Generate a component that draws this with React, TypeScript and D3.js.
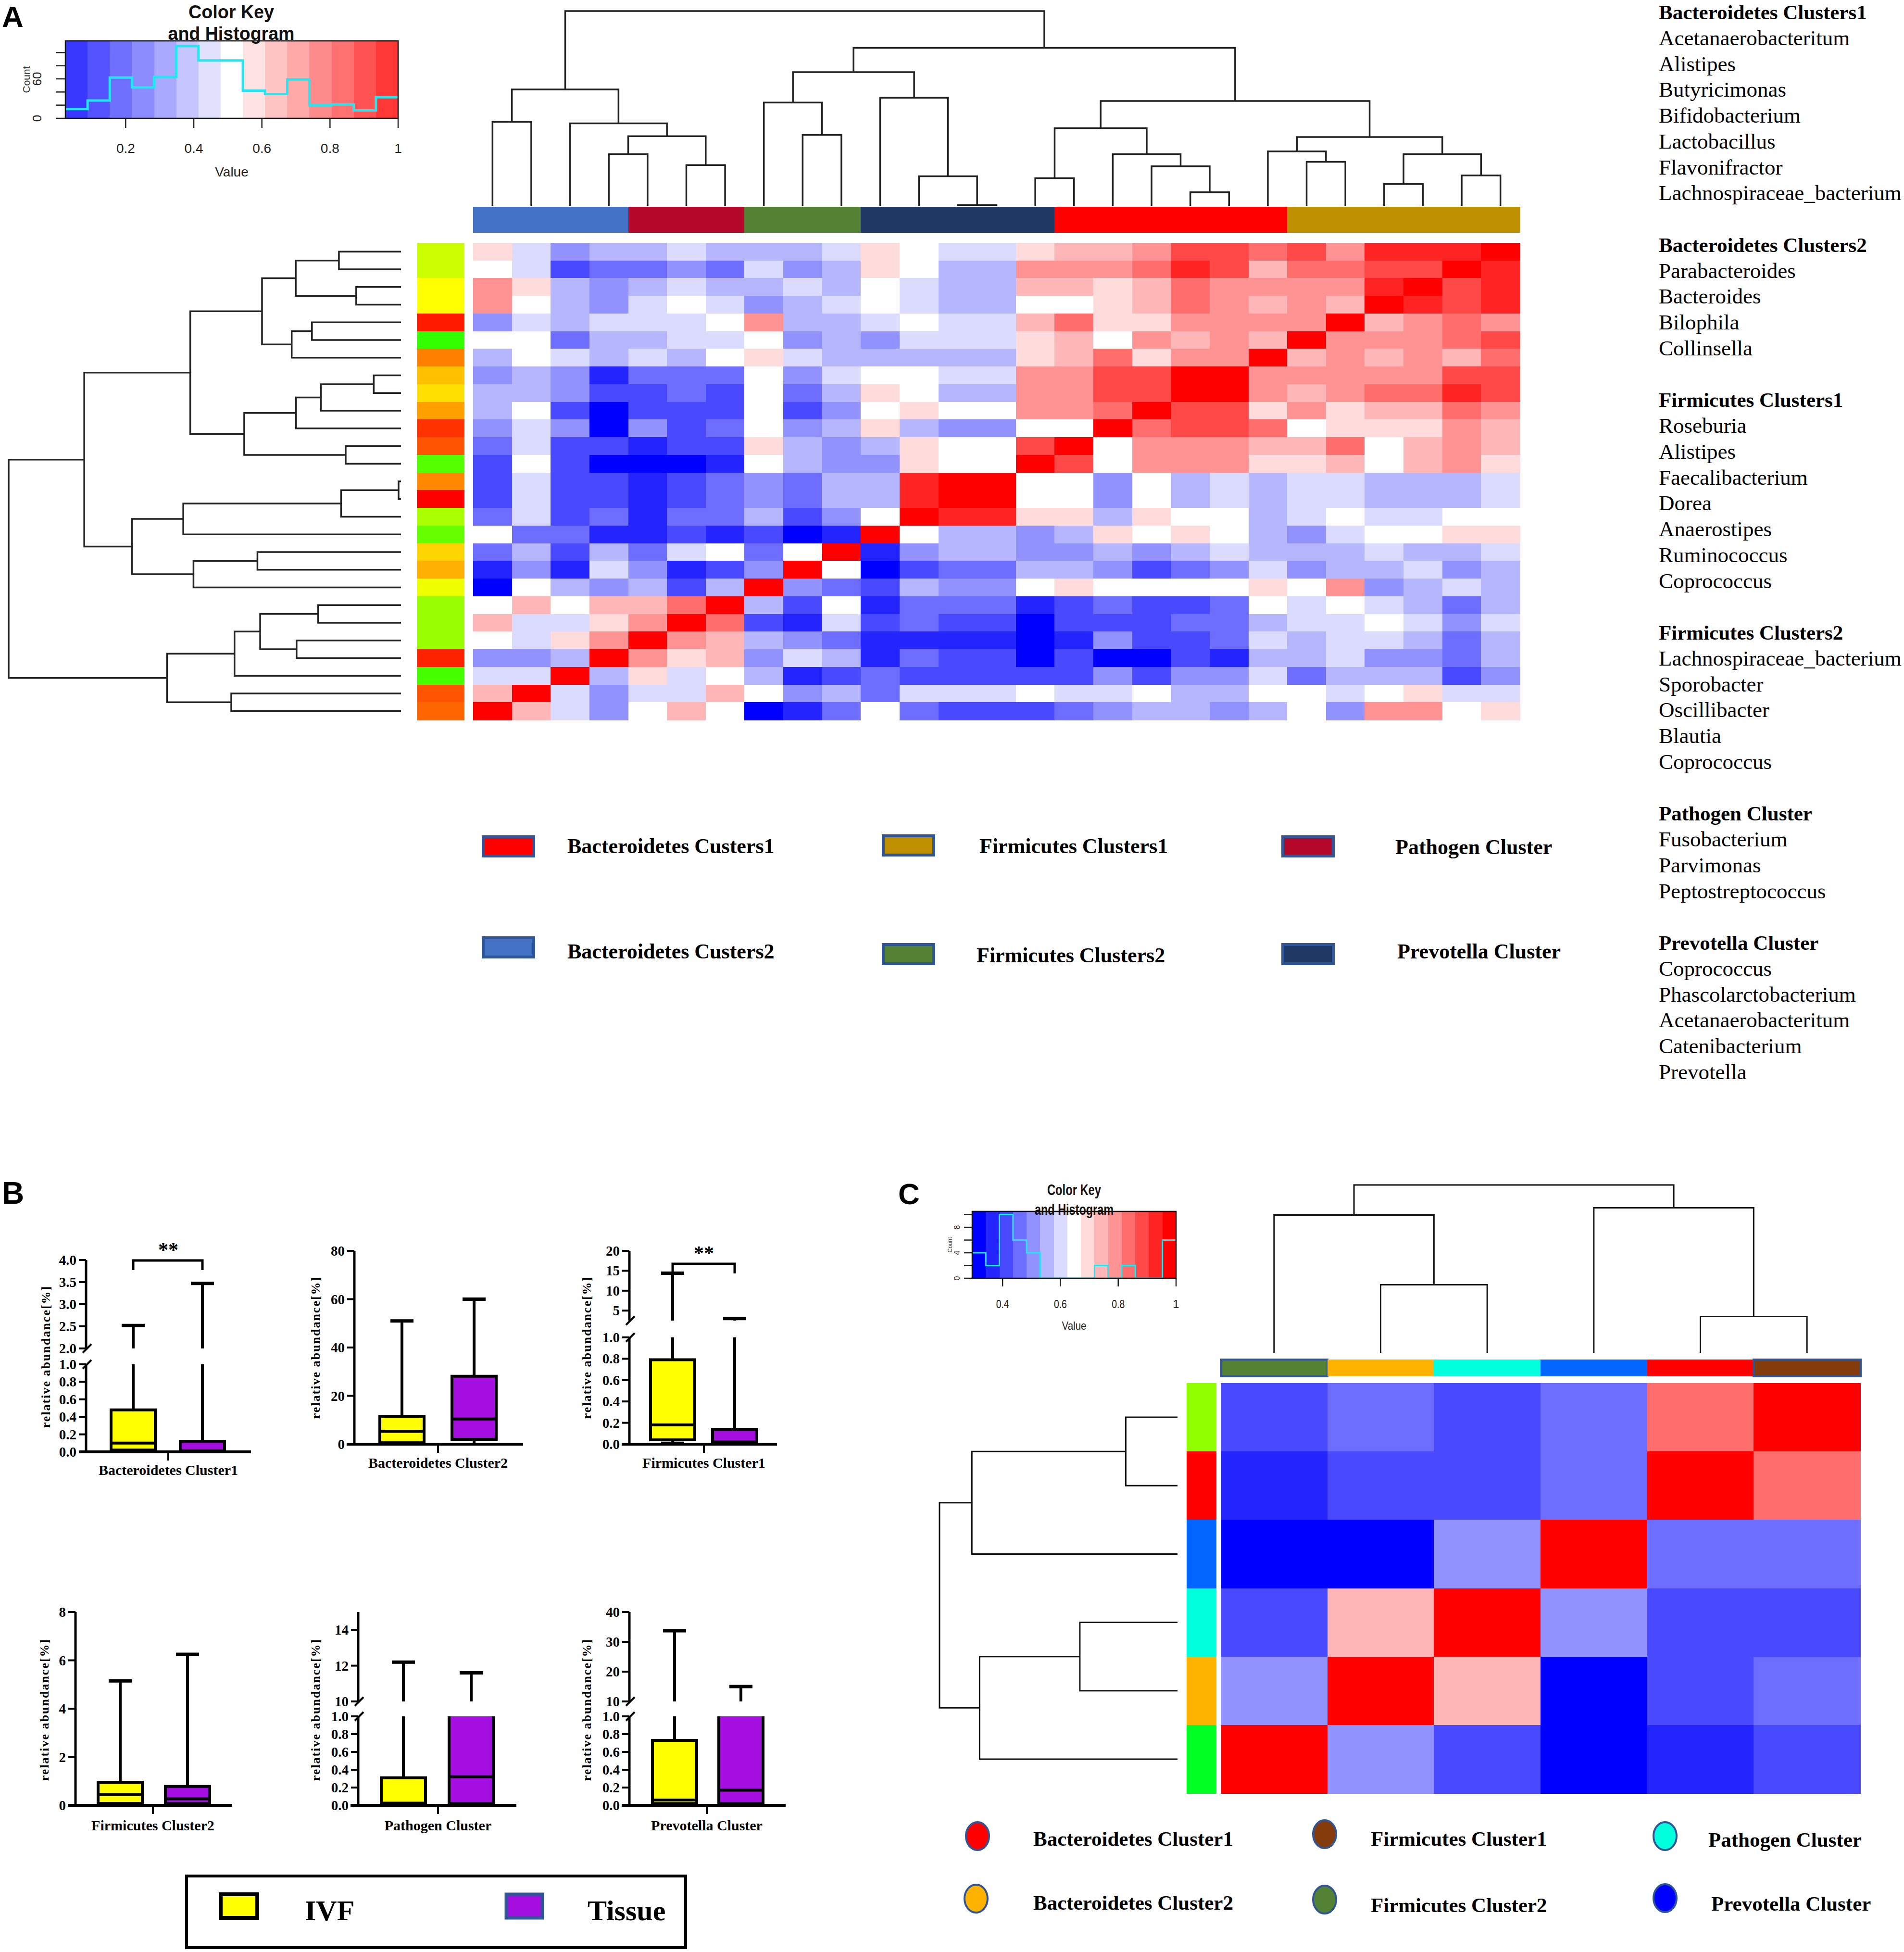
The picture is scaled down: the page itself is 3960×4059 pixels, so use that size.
import React from "react";
import * as d3 from "d3";

type Tree = number | [Tree, Tree, number];

const W = 3960;
const H = 4059;
const SERIF = "'Liberation Serif','Times New Roman',serif";
const SANS = "'Liberation Sans',Arial,sans-serif";

// ---------------- Panel A data ----------------
// cell values as colour-key bins: -7 deep blue ... 0 white ... 7 deep red
const heatA: number[][] = [
  [1, -1, -3, -2, -2, -1, -2, -2, -2, -1, 1, 0, -1, -1, 1, 2, 2, 3, 5, 5, 4, 5, 3, 6, 6, 6, 7],
  [0, -1, -5, -4, -4, -3, -4, -1, -3, -2, 1, 0, -2, -2, 3, 3, 3, 4, 6, 5, 2, 4, 4, 5, 5, 7, 6],
  [3, 1, -2, -3, -2, -1, -2, -2, -1, -2, 0, -1, -2, -2, 2, 2, 1, 2, 4, 3, 3, 3, 3, 6, 7, 5, 6],
  [3, 0, -2, -3, -1, 0, -1, -3, -2, -1, 0, -1, -2, -2, 0, 0, 1, 2, 4, 3, 2, 3, 2, 7, 6, 5, 6],
  [-3, -1, -2, -1, -1, -1, 0, 3, -2, -2, -1, 0, -1, -1, 2, 4, 1, 1, 3, 3, 3, 3, 7, 2, 3, 4, 3],
  [0, 0, -4, -2, -2, -1, -1, 0, -3, -2, -3, -1, -1, -1, 1, 2, 0, 3, 2, 3, 2, 7, 3, 3, 3, 4, 5],
  [-2, 0, -1, -2, -1, -2, 0, 1, -1, -2, -2, -2, -2, -2, 1, 2, 4, 1, 3, 3, 7, 2, 3, 2, 3, 2, 4],
  [-3, -2, -3, -6, -4, -4, -4, 0, -3, -1, 0, 0, -1, -1, 3, 3, 5, 5, 7, 7, 3, 3, 3, 3, 3, 5, 5],
  [-2, -2, -3, -5, -5, -4, -5, 0, -4, -2, 1, 0, -2, -2, 3, 3, 5, 5, 7, 7, 3, 2, 3, 4, 4, 6, 5],
  [-2, 0, -5, -7, -5, -5, -5, 0, -5, -3, 0, 1, 0, 0, 3, 3, 4, 7, 5, 5, 1, 3, 1, 2, 2, 4, 3],
  [-3, -1, -3, -7, -3, -5, -4, 0, -3, -2, 1, -2, -3, -3, 0, 0, 7, 4, 5, 5, 4, 0, 1, 1, 1, 3, 2],
  [-4, -1, -5, -5, -6, -5, -5, 1, -2, -3, -2, 1, 0, 0, 5, 7, 0, 3, 3, 3, 2, 2, 4, 0, 2, 3, 2],
  [-5, 0, -5, -7, -7, -7, -6, 0, -2, -3, -3, 1, 0, 0, 7, 5, 0, 3, 3, 3, 1, 1, 2, 0, 2, 3, 1],
  [-5, -1, -5, -5, -6, -5, -4, -3, -4, -2, -2, 6, 7, 7, 0, 0, -3, 0, -2, -1, -2, -1, -1, -2, -2, -2, -1],
  [-5, -1, -5, -5, -6, -5, -4, -3, -4, -2, -2, 6, 7, 7, 0, 0, -3, 0, -2, -1, -2, -1, -1, -2, -2, -2, -1],
  [-4, -1, -5, -4, -6, -4, -4, -2, -5, -3, 0, 7, 6, 6, 1, 1, -2, 1, 0, 0, -2, -1, 0, -1, -1, 0, 0],
  [0, -4, -4, -6, -6, -5, -6, -5, -7, -6, 7, 0, -2, -2, -3, -2, 1, 0, 1, 0, -2, -3, -1, 0, 0, 1, 1],
  [-4, -2, -5, -2, -4, -1, 0, -4, 0, 7, -6, -3, -2, -2, -3, -3, -2, -3, -2, -1, -2, -2, -2, -1, -2, -2, -1],
  [-6, -3, -6, -1, -3, -6, -5, -3, 7, 0, -7, -5, -4, -4, -2, -2, -3, -5, -4, -3, -1, -3, -2, -2, -1, -3, -2],
  [-7, 0, -2, -3, -2, -5, -2, 7, -3, -4, -5, -2, -3, -3, 0, 1, 0, 0, 0, 0, 1, 0, 3, -3, -2, -1, -2],
  [0, 2, 0, 2, 2, 4, 7, -2, -5, 0, -6, -4, -4, -4, -6, -5, -4, -5, -5, -4, 0, -1, 0, -1, -2, -4, -2],
  [2, -1, -1, 1, 3, 7, 4, -5, -6, -1, -5, -4, -5, -5, -7, -5, -5, -5, -4, -4, -2, -1, -1, 0, -1, -3, -1],
  [0, -1, 1, 3, 7, 3, 2, -2, -3, -4, -6, -6, -6, -6, -7, -6, -3, -5, -5, -4, -1, -2, -1, -1, -2, -4, -2],
  [-3, -3, -2, 7, 3, 1, 2, -3, -1, -2, -6, -4, -5, -5, -7, -5, -7, -7, -5, -6, -2, -2, -1, -3, -3, -4, -2],
  [-1, -1, 7, -2, 1, -1, 0, -2, -6, -5, -4, -5, -5, -5, -5, -5, -3, -5, -3, -3, -1, -4, -2, -2, -2, -5, -3],
  [2, 7, -1, -3, -1, -1, 2, 0, -3, -2, -4, -1, -1, -1, 0, -1, -1, 0, -2, -2, 0, 0, -1, 0, 1, -1, -1],
  [7, 2, -1, -3, 0, 2, 0, -7, -6, -4, 0, -4, -5, -5, -5, -4, -3, -2, -2, -3, -2, 0, -3, 3, 3, 0, 1],
];

const rowSideA = [
  "#CCFF00", "#CCFF00", "#FFFF00", "#FFFF00", "#FF1A00", "#33FF00", "#FF8000", "#FFC000", "#FFE000",
  "#FFA000", "#FF3300", "#FF5500", "#55FF00", "#FF8800", "#FF0000", "#AAFF00", "#66FF00", "#FFD500",
  "#FFB000", "#EEFF00", "#99FF00", "#99FF00", "#99FF00", "#FF2200", "#44FF00", "#FF5500", "#FF6600",
];

const colGroupSizesA = [4, 3, 3, 5, 6, 6];
const colGroupColorsA = ["#4472C4", "#B5082A", "#548235", "#203864", "#FF0000", "#BF9000"];

const colTreeA: Tree = [
  [[0, 1, 5.25], [2, [[3, 4, 3.23], [5, 6, 2.55], 4.35], 5.15], 7.27],
  [
    [[7, [8, 9, 4.43], 6.45], [10, [11, [12, 13, 0.05], 1.85], 6.75], 8.35],
    [
      [[14, 15, 1.73], [16, [17, [18, 19, 0.85], 2.47], 3.23], 4.85],
      [[20, [21, 22, 2.75], 3.4], [[23, 24, 1.37], [25, 26, 1.9], 3.23], 4.3],
      6.55,
    ],
    9.87,
  ],
  12.17,
];

const rowTreeA: Tree = [
  [
    [
      [[[0, 1, 2.3], [2, 3, 1.66], 3.9], [[4, 5, 3.3], 6, 4.05], 5.15],
      [[[[7, 8, 1.01], 9, 2.97], 10, 3.89], [11, 12, 2.05], 5.81],
      7.81,
    ],
    [[[[13, 14, 0.09], 15, 2.22], 16, 8.07], [[17, 18, 5.32], 19, 7.69], 9.97],
    11.74,
  ],
  [[[[20, 21, 3.07], [22, 23, 3.87], 5.22], 24, 6.17], [25, 26, 6.29], 8.67],
  14.54,
];

const keyCountsA = [14, 27, 62, 47, 63, 110, 88, 88, 42, 37, 59, 20, 21, 12, 32];
const keyTicksA = [0.2, 0.4, 0.6, 0.8, 1];

const legendNamesA = [
  "Bacteroidetes Custers1", "Firmicutes Clusters1", "Pathogen Cluster",
  "Bacteroidetes Custers2", "Firmicutes Clusters2", "Prevotella Cluster",
];
const legendColorsA = ["#FF0000", "#BF9000", "#B5082A", "#4472C4", "#548235", "#203864"];

const memberTitles = [
  "Bacteroidetes Clusters1", "Bacteroidetes Clusters2", "Firmicutes Clusters1",
  "Firmicutes Clusters2", "Pathogen Cluster", "Prevotella Cluster",
];
const membersBac1 = ["Acetanaerobacteritum", "Alistipes", "Butyricimonas", "Bifidobacterium", "Lactobacillus", "Flavonifractor", "Lachnospiraceae_bacterium"];
const membersBac2 = ["Parabacteroides", "Bacteroides", "Bilophila", "Collinsella"];
const membersFir1 = ["Roseburia", "Alistipes", "Faecalibacterium", "Dorea", "Anaerostipes", "Ruminococcus", "Coprococcus"];
const membersFir2 = ["Lachnospiraceae_bacterium", "Sporobacter", "Oscillibacter", "Blautia", "Coprococcus"];
const membersPath = ["Fusobacterium", "Parvimonas", "Peptostreptococcus"];
const membersPrev = ["Coprococcus", "Phascolarctobacterium", "Acetanaerobacteritum", "Catenibacterium", "Prevotella"];
const memberLists = [membersBac1, membersBac2, membersFir1, membersFir2, membersPath, membersPrev];

// ---------------- Panel B data ----------------
const boxNames = [
  "Bacteroidetes Cluster1", "Bacteroidetes Cluster2", "Firmicutes Cluster1",
  "Firmicutes Cluster2", "Pathogen Cluster", "Prevotella Cluster",
];
// [min, q1, median, q3, max]
const ivfStats = [
  [0, 0.02, 0.1, 0.48, 2.52],
  [0.3, 0.6, 5.3, 11.5, 51],
  [0.01, 0.04, 0.18, 0.79, 14.4],
  [0.02, 0.08, 0.45, 0.95, 5.15],
  [0, 0.02, 0.025, 0.31, 12.2],
  [0, 0.02, 0.06, 0.73, 33.7],
];
const tissueStats = [
  [0, 0.01, 0.01, 0.12, 3.47],
  [0, 2, 10.4, 28.1, 60],
  [0, 0.01, 0.02, 0.14, 3.0],
  [0.02, 0.08, 0.27, 0.78, 6.25],
  [0, 0.02, 0.32, 4, 11.6],
  [0, 0.02, 0.17, 4, 15],
];
const boxDomains = [
  [[0, 1], [2, 4]],
  [[0, 80]],
  [[0, 1], [2.5, 20]],
  [[0, 8]],
  [[0, 1], [10, 15]],
  [[0, 1], [10, 40]],
];
const boxTicks = [
  [[0, 0.2, 0.4, 0.6, 0.8, 1], [2, 2.5, 3, 3.5, 4]],
  [[0, 20, 40, 60, 80]],
  [[0, 0.2, 0.4, 0.6, 0.8, 1], [5, 10, 15, 20]],
  [[0, 2, 4, 6, 8]],
  [[0, 0.2, 0.4, 0.6, 0.8, 1], [10, 12, 14]],
  [[0, 0.2, 0.4, 0.6, 0.8, 1], [10, 20, 30, 40]],
];
const sigLabels = ["**", "", "**", "", "", ""];
const groupNames = ["IVF", "Tissue"];
const groupColors = ["#FFFF00", "#A50EE0"];

// ---------------- Panel C data ----------------
const heatC: number[][] = [
  [-5, -4, -5, -4, 4, 7],
  [-6, -5, -5, -4, 7, 4],
  [-7, -7, -3, 7, -4, -4],
  [-5, 2, 7, -3, -5, -5],
  [-3, 7, 2, -7, -5, -4],
  [7, -3, -5, -7, -6, -5],
];
const colBarC = ["#548235", "#FFB300", "#00FFDD", "#0066FF", "#FF0000", "#843C0C"];
const rowBarC = ["#8FFF00", "#FF0000", "#0066FF", "#00FFDD", "#FFB300", "#00FF22"];
const colTreeC: Tree = [[0, [1, 2, 1.61], 3.26], [3, [4, 5, 0.86], 3.43], 3.97];
const rowTreeC: Tree = [[[0, 1, 0.8], 2, 3.18], [[3, 4, 1.51], 5, 3.06], 3.68];
const keyCountsC = [4, 2, 10, 6, 4, 0, 0, 0, 0, 2, 0, 2, 0, 0, 6];
const keyTicksC = [0.4, 0.6, 0.8, 1];
const legendNamesC = [
  "Bacteroidetes Cluster1", "Firmicutes Cluster1", "Pathogen Cluster",
  "Bacteroidetes Cluster2", "Firmicutes Cluster2", "Prevotella Cluster",
];
const legendColorsC = ["#FF0000", "#843C0C", "#00FFDD", "#FFB300", "#548235", "#0000FF"];

// ---------------- helpers ----------------
const palette = d3.scaleLinear<string>().domain([-7, 0, 7]).range(["#0000ff", "#ffffff", "#ff0000"]);
const binLevels = d3.range(-7, 8);

function dendroPath(tree: Tree, leaf: (i: number) => number, height: (h: number) => number, horizontal: boolean) {
  const p = d3.path();
  const pt = (a: number, h: number) => (horizontal ? [height(h), a] : [a, height(h)]);
  const walk = (t: Tree): [number, number] => {
    if (typeof t === "number") return [leaf(t), 0];
    const [a, ah] = walk(t[0]);
    const [b, bh] = walk(t[1]);
    const h = t[2];
    const p1 = pt(a, ah), p2 = pt(a, h), p3 = pt(b, h), p4 = pt(b, bh);
    p.moveTo(p1[0], p1[1]);
    p.lineTo(p2[0], p2[1]);
    p.lineTo(p3[0], p3[1]);
    p.lineTo(p4[0], p4[1]);
    return [(a + b) / 2, h];
  };
  walk(tree);
  return p.toString();
}

function Cells({ data, x, y }: { data: number[][]; x: d3.ScaleBand<number>; y: d3.ScaleBand<number> }) {
  return (
    <g shapeRendering="crispEdges">
      {data.map((row, r) =>
        row.map((v, c) => (
          <rect key={r + "-" + c} x={x(c)} y={y(r)} width={x.bandwidth() + 0.6} height={y.bandwidth() + 0.6} fill={palette(v)} />
        ))
      )}
    </g>
  );
}

type KeyProps = {
  x0: number; x1: number; y0: number; y1: number;
  domain: [number, number]; ticks: number[]; counts: number[]; countMax: number;
  countTicks: number[]; countLabels: number[]; fade: number;
  fs: number; tickLen: number; labelY: number; valueY: number;
  titleX: number; titleY: [number, number]; titleFs: number; titleLen: [number, number];
  countLabelX: number; countTitleX: number; countFs: number; countTitleFs: number;
  tickLabelLen?: number; valueLen?: number;
};

function ColorKey(k: KeyProps) {
  const xv = d3.scaleLinear().domain(k.domain).range([k.x0, k.x1]);
  const cy = d3.scaleLinear().domain([0, k.countMax]).range([k.y1, k.y0]);
  const bw = (k.x1 - k.x0) / binLevels.length;
  const pts: [number, number][] = k.counts.map((c, i) => [k.x0 + i * bw, cy(c)]);
  pts.push([k.x1, cy(k.counts[k.counts.length - 1])]);
  const hist = d3.line().curve(d3.curveStepAfter)(pts) || "";
  return (
    <g fontFamily={SANS}>
      <g opacity={k.fade} shapeRendering="crispEdges">
        {binLevels.map((l, i) => (
          <rect key={i} x={k.x0 + i * bw} y={k.y0} width={bw + 0.6} height={k.y1 - k.y0} fill={palette(l)} />
        ))}
      </g>
      <path d={hist} fill="none" stroke="#22E6F0" strokeWidth={k.fs > 26 ? 5 : 3} />
      <rect x={k.x0} y={k.y0} width={k.x1 - k.x0} height={k.y1 - k.y0} fill="none" stroke="#111" strokeWidth={2.5} />
      {k.countTicks.map((t) => (
        <line key={"ct" + t} x1={k.x0 - k.tickLen} x2={k.x0} y1={cy(t)} y2={cy(t)} stroke="#222" strokeWidth={2.5} />
      ))}
      {k.countLabels.map((t) => (
        <text key={"cl" + t} transform={`translate(${k.countLabelX},${cy(t)}) rotate(-90)`} textAnchor="middle" fontSize={k.countFs} fill="#222">
          {t}
        </text>
      ))}
      <text transform={`translate(${k.countTitleX},${(k.y0 + k.y1) / 2}) rotate(-90)`} textAnchor="middle" fontSize={k.countTitleFs} fill="#333">
        Count
      </text>
      {k.ticks.map((t) => (
        <g key={"vt" + t}>
          <line x1={xv(t)} x2={xv(t)} y1={k.y1} y2={k.y1 + k.tickLen} stroke="#222" strokeWidth={2.5} />
          <text x={xv(t)} y={k.labelY} textAnchor="middle" fontSize={k.fs} fill="#222" textLength={k.tickLabelLen && t !== 1 ? k.tickLabelLen : undefined} lengthAdjust="spacingAndGlyphs">
            {t === 1 ? "1" : t.toFixed(1)}
          </text>
        </g>
      ))}
      <text x={(k.x0 + k.x1) / 2} y={k.valueY} textAnchor="middle" fontSize={k.fs} fill="#222" textLength={k.valueLen} lengthAdjust="spacingAndGlyphs">
        Value
      </text>
      <text x={k.titleX} y={k.titleY[0]} textAnchor="middle" fontSize={k.titleFs} fontWeight="bold" fill="#111" textLength={k.titleLen[0]} lengthAdjust="spacingAndGlyphs">
        Color Key
      </text>
      <text x={k.titleX} y={k.titleY[1]} textAnchor="middle" fontSize={k.titleFs} fontWeight="bold" fill="#111" textLength={k.titleLen[1]} lengthAdjust="spacingAndGlyphs">
        and Histogram
      </text>
    </g>
  );
}

// ---------------- Panel A ----------------
function PanelA() {
  const n = heatA.length;
  const x = d3.scaleBand<number>().domain(d3.range(n)).range([984, 3161]);
  const y = d3.scaleBand<number>().domain(d3.range(n)).range([505, 1497]);
  const colH = d3.scaleLinear().domain([0, 12.17]).range([428, 23]);
  const rowH = d3.scaleLinear().domain([0, 14.54]).range([834, 18]);
  const starts = d3.cumsum([0, ...colGroupSizesA]);
  const legendPos = [
    [1002, 1737, 1180, 1774], [1834, 1735, 2037, 1774], [2665, 1737, 2902, 1776],
    [1002, 1947, 1180, 1993], [1834, 1961, 2031, 2001], [2665, 1961, 2906, 1993],
  ];
  const lines: { text: string; bold: boolean }[] = [];
  memberTitles.forEach((t, i) => {
    if (i > 0) lines.push({ text: "", bold: false });
    lines.push({ text: t, bold: true });
    memberLists[i].forEach((m) => lines.push({ text: m, bold: false }));
  });
  return (
    <g>
      <text x={4} y={56} fontFamily={SANS} fontWeight="bold" fontSize={62}>A</text>
      <ColorKey
        x0={136} x1={828} y0={85} y1={246} domain={[0.023, 1]} ticks={keyTicksA}
        counts={keyCountsA} countMax={117.8} countTicks={[0, 20, 40, 60, 80, 100]} countLabels={[0, 60]}
        fade={0.78} fs={28} tickLen={20} labelY={318} valueY={367}
        titleX={481} titleY={[38, 83]} titleFs={38} titleLen={[178, 263]}
        countLabelX={86} countTitleX={62} countFs={26} countTitleFs={21}
      />
      <path d={dendroPath(colTreeA, (i) => (x(i) as number) + x.bandwidth() / 2, colH, false)} fill="none" stroke="#222" strokeWidth={3.5} />
      <path d={dendroPath(rowTreeA, (i) => (y(i) as number) + y.bandwidth() / 2, rowH, true)} fill="none" stroke="#222" strokeWidth={3.5} />
      <g shapeRendering="crispEdges">
        {colGroupSizesA.map((s, i) => (
          <rect key={i} x={x(starts[i])} y={430} width={s * x.bandwidth() + 0.6} height={54} fill={colGroupColorsA[i]} />
        ))}
        {rowSideA.map((c, i) => (
          <rect key={i} x={867} y={y(i)} width={99} height={y.bandwidth() + 0.6} fill={c} />
        ))}
      </g>
      <Cells data={heatA} x={x} y={y} />
      {legendNamesA.map((name, i) => {
        const [sx, sy, tx, ty] = legendPos[i];
        return (
          <g key={name}>
            <rect x={sx + 3} y={sy + 3} width={105} height={40} fill={legendColorsA[i]} stroke="#2F5597" strokeWidth={6} />
            <text x={tx} y={ty} fontFamily={SERIF} fontWeight="bold" fontSize={44}>{name}</text>
          </g>
        );
      })}
      {lines.map((l, i) => (
        <text key={i} x={3450} y={40 + 53.75 * i} fontFamily={SERIF} fontWeight={l.bold ? "bold" : "normal"} fontSize={l.bold ? 43 : 45}>
          {l.text}
        </text>
      ))}
    </g>
  );
}

// ---------------- Panel B ----------------
const boxLayout = [
  { ax: 179, xl: 165, xr: 522, ranges: [[3019, 2837], [2804, 2620]], cx: 350, g: [277, 421], ylab: [104, 2821], xlabY: 3067, sigY: 2621 },
  { ax: 737, xl: 721, xr: 1088, ranges: [[3003, 2601]], cx: 911, g: [836, 986], ylab: [665, 2802], xlabY: 3052, sigY: 0 },
  { ax: 1309, xl: 1293, xr: 1616, ranges: [[3003, 2781], [2746, 2601]], cx: 1464, g: [1399, 1528], ylab: [1229, 2802], xlabY: 3052, sigY: 2628 },
  { ax: 157, xl: 141, xr: 483, ranges: [[3754, 3352]], cx: 318, g: [250, 390], ylab: [101, 3555], xlabY: 3806, sigY: 0 },
  { ax: 745, xl: 729, xr: 1074, ranges: [[3754, 3569], [3538, 3352]], cx: 911, g: [839, 980], ylab: [665, 3555], xlabY: 3806, sigY: 0 },
  { ax: 1309, xl: 1293, xr: 1634, ranges: [[3754, 3569], [3538, 3352]], cx: 1470, g: [1403, 1541], ylab: [1229, 3555], xlabY: 3806, sigY: 0 },
];

function BoxPanel({ i }: { i: number }) {
  const L = boxLayout[i];
  const doms = boxDomains[i];
  const sc = doms.map((d, k) => d3.scaleLinear().domain(d).range(L.ranges[k]));
  const yOf = (v: number) => {
    for (let k = 0; k < doms.length; k++) if (v >= doms[k][0] && v <= doms[k][1]) return sc[k](v);
    return null;
  };
  const pieces = (a: number, b: number) =>
    doms.flatMap((d, k) => {
      const lo = Math.max(a, d[0]);
      const hi = Math.min(b, d[1]);
      return hi > lo ? [[sc[k](lo), sc[k](hi)]] : [];
    });
  const lw = 5;
  const hw = 46;
  const cw = 24;
  const stats = [ivfStats[i], tissueStats[i]];
  const y0 = L.ranges[0][0];
  return (
    <g>
      {doms.map((d, k) => (
        <g key={"ax" + k}>
          <line x1={L.ax} x2={L.ax} y1={L.ranges[k][0] + (k === 0 ? 2 : 0)} y2={L.ranges[k][1]} stroke="#000" strokeWidth={lw} />
          {boxTicks[i][k].map((t) => (
            <g key={t}>
              <line x1={L.ax - 15} x2={L.ax} y1={sc[k](t)} y2={sc[k](t)} stroke="#000" strokeWidth={4} />
              <text x={L.ax - 20} y={sc[k](t) + 10} textAnchor="end" fontFamily={SERIF} fontWeight="bold" fontSize={29}>
                {d[1] <= 4 ? t.toFixed(1) : String(t)}
              </text>
            </g>
          ))}
        </g>
      ))}
      {doms.length > 1 && (
        <g stroke="#000" strokeWidth={4}>
          <line x1={L.ax - 7} x2={L.ax + 11} y1={L.ranges[0][1] + 9} y2={L.ranges[0][1] - 9} />
          <line x1={L.ax - 7} x2={L.ax + 11} y1={L.ranges[1][0] + 9} y2={L.ranges[1][0] - 9} />
        </g>
      )}
      <line x1={L.xl} x2={L.xr} y1={y0} y2={y0} stroke="#000" strokeWidth={lw + 1} />
      <line x1={L.cx} x2={L.cx} y1={y0} y2={y0 + 18} stroke="#000" strokeWidth={4} />
      {stats.map((s, gi) => {
        const cx = L.g[gi];
        const [mn, q1, md, q3, mx] = s;
        const yq3 = yOf(q3);
        const yq1 = yOf(q1);
        const ymd = yOf(md);
        const ymx = yOf(mx);
        const ymn = yOf(mn);
        return (
          <g key={gi} stroke="#000">
            {[...pieces(q3, mx), ...pieces(mn, q1)].map(([a, b], k) => (
              <line key={"w" + k} x1={cx} x2={cx} y1={a} y2={b} strokeWidth={6} />
            ))}
            {ymx !== null && <line x1={cx - cw} x2={cx + cw} y1={ymx} y2={ymx} strokeWidth={7} />}
            {ymn !== null && <line x1={cx - cw} x2={cx + cw} y1={ymn} y2={ymn} strokeWidth={6} />}
            {pieces(q1, q3).map(([a, b], k) => (
              <g key={"b" + k}>
                <rect x={cx - hw} y={b} width={2 * hw} height={a - b} fill={groupColors[gi]} stroke="none" />
                <path d={`M${cx - hw},${a}V${b}M${cx + hw},${a}V${b}`} fill="none" strokeWidth={lw + 1} />
              </g>
            ))}
            {yq3 !== null && <line x1={cx - hw - 3} x2={cx + hw + 3} y1={yq3} y2={yq3} strokeWidth={lw + 1} />}
            {yq1 !== null && <line x1={cx - hw - 3} x2={cx + hw + 3} y1={yq1} y2={yq1} strokeWidth={lw + 1} />}
            {ymd !== null && <line x1={cx - hw} x2={cx + hw} y1={ymd} y2={ymd} strokeWidth={lw + 1} />}
          </g>
        );
      })}
      {sigLabels[i] && (
        <g>
          <path d={`M${L.g[0]},${L.sigY + 20}V${L.sigY}H${L.g[1]}V${L.sigY + 20}`} fill="none" stroke="#000" strokeWidth={5} />
          <text x={L.cx} y={L.sigY - 8} textAnchor="middle" fontFamily={SERIF} fontWeight="bold" fontSize={42}>
            {sigLabels[i]}
          </text>
        </g>
      )}
      <text transform={`translate(${L.ylab[0]},${L.ylab[1]}) rotate(-90)`} textAnchor="middle" fontFamily={SERIF} fontWeight="bold" fontSize={26} letterSpacing={2}>
        relative abundance[%]
      </text>
      <text x={L.cx} y={L.xlabY} textAnchor="middle" fontFamily={SERIF} fontWeight="bold" fontSize={30}>
        {boxNames[i]}
      </text>
    </g>
  );
}

function PanelB() {
  return (
    <g>
      <text x={4} y={2503} fontFamily={SANS} fontWeight="bold" fontSize={64}>B</text>
      {boxNames.map((_, i) => (
        <BoxPanel key={i} i={i} />
      ))}
      <rect x={388} y={3901} width={1038} height={149} fill="none" stroke="#000" strokeWidth={6} />
      <rect x={459} y={3939} width={76} height={49} fill={groupColors[0]} stroke="#000" strokeWidth={8} />
      <text x={634} y={3993} fontFamily={SERIF} fontWeight="bold" fontSize={60}>{groupNames[0]}</text>
      <rect x={1053} y={3939} width={75} height={49} fill={groupColors[1]} stroke="#2F5597" strokeWidth={7} />
      <text x={1222} y={3993} fontFamily={SERIF} fontWeight="bold" fontSize={60}>{groupNames[1]}</text>
    </g>
  );
}

// ---------------- Panel C ----------------
function PanelC() {
  const n = heatC.length;
  const x = d3.scaleBand<number>().domain(d3.range(n)).range([2539, 3869]);
  const y = d3.scaleBand<number>().domain(d3.range(n)).range([2876, 3729]);
  const colH = d3.scaleLinear().domain([0, 3.97]).range([2813, 2464]);
  const rowH = d3.scaleLinear().domain([0, 3.68]).range([2449, 1954]);
  const legendPos = [
    [2033, 3818, 2149, 3838], [2755, 3814, 2851, 3838], [3463, 3818, 3553, 3840],
    [2030, 3948, 2149, 3971], [2755, 3950, 2851, 3976], [3463, 3947, 3559, 3973],
  ];
  return (
    <g>
      <text x={1868} y={2504} fontFamily={SANS} fontWeight="bold" fontSize={62}>C</text>
      <ColorKey
        x0={2022} x1={2446} y0={2519} y1={2658} domain={[0.295, 1]} ticks={keyTicksC}
        counts={keyCountsC} countMax={10.5} countTicks={[0, 2, 4, 6, 8, 10]} countLabels={[0, 4, 8]}
        fade={1} fs={24} tickLen={17} labelY={2720} valueY={2765}
        titleX={2234} titleY={[2485, 2526]} titleFs={32} titleLen={[112, 164]}
        countLabelX={1996} countTitleX={1980} countFs={16} countTitleFs={12}
        tickLabelLen={27} valueLen={51}
      />
      <path d={dendroPath(colTreeC, (i) => (x(i) as number) + x.bandwidth() / 2, colH, false)} fill="none" stroke="#111" strokeWidth={3} />
      <path d={dendroPath(rowTreeC, (i) => (y(i) as number) + y.bandwidth() / 2, rowH, true)} fill="none" stroke="#111" strokeWidth={3} />
      <g shapeRendering="crispEdges">
        {colBarC.map((c, i) => (
          <rect key={i} x={x(i)} y={2827} width={x.bandwidth() + 0.6} height={35} fill={c}
            stroke={i === 0 || i === n - 1 ? "#2F5597" : "none"} strokeWidth={4} />
        ))}
        {rowBarC.map((c, i) => (
          <rect key={i} x={2468} y={y(i)} width={62} height={y.bandwidth() + 0.6} fill={c} />
        ))}
      </g>
      <Cells data={heatC} x={x} y={y} />
      {legendNamesC.map((name, i) => {
        const [cx, cy, tx, ty] = legendPos[i];
        return (
          <g key={name}>
            <ellipse cx={cx} cy={cy} rx={24} ry={29} fill={legendColorsC[i]} stroke="#2F5597" strokeWidth={4} />
            <text x={tx} y={ty} fontFamily={SERIF} fontWeight="bold" fontSize={43}>{name}</text>
          </g>
        );
      })}
    </g>
  );
}

export default function App() {
  return (
    <svg width={W} height={H} viewBox={`0 0 ${W} ${H}`} style={{ position: "absolute", left: 0, top: 0, background: "#fff" }}>
      <rect width={W} height={H} fill="#fff" />
      <PanelA />
      <PanelB />
      <PanelC />
    </svg>
  );
}
